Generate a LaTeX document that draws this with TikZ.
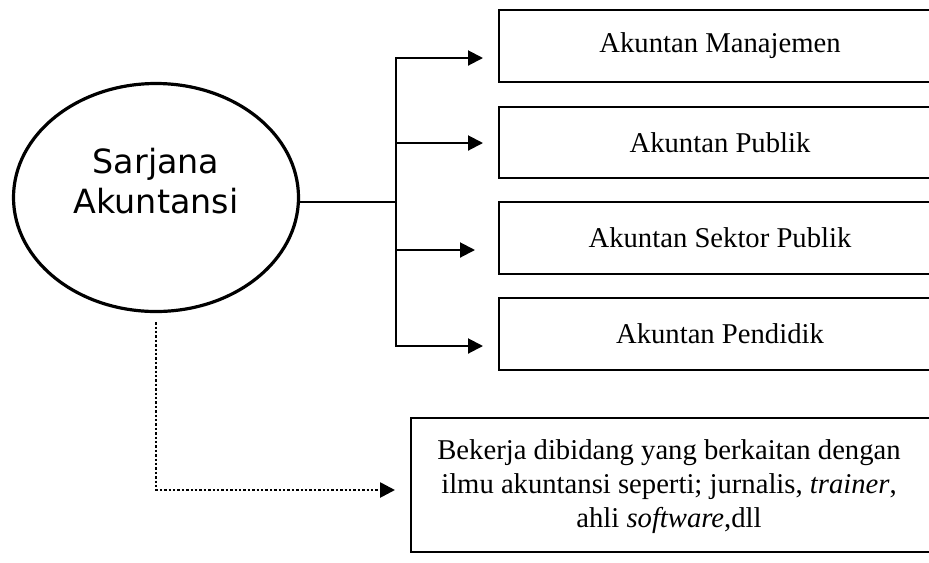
\documentclass[tikz,border=0pt]{standalone}
\usepackage{fontspec}
\setmainfont{Liberation Serif}
\newfontfamily\vsans{DejaVu Sans}
\usetikzlibrary{shapes.geometric,arrows.meta}
\tikzset{
  boxstyle/.style={rectangle, inner sep=0pt, align=center,
    font=\fontsize{21.5}{25.5}\selectfont},
  boxline/.style={line width=1.25pt},
  conn/.style={line width=1.5pt},
  arr/.style={line width=1.5pt, -{Triangle[length=11.25pt,width=11.25pt]}},
  dotline/.style={line width=2pt, dash pattern=on 1.8pt off 1.5pt,
    -{Triangle[length=11.25pt,width=11.25pt]}},
}
\begin{document}
\begin{tikzpicture}[x=0.75pt,y=-0.75pt]
\useasboundingbox (0,0) rectangle (929,562);
\fill[white] (0,0) rectangle (929,562);
\coordinate (edge) at (929.5,0);
% ellipse
\node[draw, ellipse, line width=2.4pt, minimum width=213.75pt, minimum height=171pt, inner sep=0pt] (ell) at (156,197.5) {};
\node[font=\vsans\fontsize{25}{30}\selectfont, align=center, anchor=base] (elltext) at (156,213) {Sarjana\\Akuntansi};
% boxes (cut off by the right edge of the picture)
\node[boxstyle, minimum width=331.5pt, minimum height=54pt] (b1) at (720,46) {Akuntan Manajemen};
\node[boxstyle, minimum width=331.5pt, minimum height=53.25pt] (b2) at (720,142.5) {Akuntan Publik};
\node[boxstyle, minimum width=331.5pt, minimum height=54pt] (b3) at (720,238) {Akuntan Sektor Publik};
\node[boxstyle, minimum width=331.5pt, minimum height=54pt] (b4) at (720,334) {Akuntan Pendidik};
\node[boxstyle, minimum width=389pt, minimum height=100.5pt] (b5) at (670.5,485) {};
\node[align=center, inner sep=0pt, font=\fontsize{21.5}{25.5}\selectfont] (b5text) at (669,487)
  {Bekerja dibidang yang berkaitan dengan\\ilmu akuntansi seperti; jurnalis, \textit{trainer},\\ahli \textit{software},dll};
\foreach \b in {b1,b2,b3,b4,b5}{
  \draw[boxline] (\b.north east -| edge) -- (\b.north west) -- (\b.south west) -- (\b.south east -| edge);
}
% trunk
\coordinate (j) at (396,202);
\coordinate (t1) at (396,58);
\coordinate (t2) at (396,143);
\coordinate (t3) at (396,250);
\coordinate (t4) at (396,346);
\coordinate (a1) at (483,58);
\coordinate (a2) at (483,143);
\coordinate (a3) at (475,250);
\coordinate (a4) at (483,346);
\draw[conn] (ell.east |- j) -- (j);
\draw[conn, line cap=rect] (t1) -- (t4);
\draw[arr] (t1) -- (a1);
\draw[arr] (t2) -- (a2);
\draw[arr] (t3) -- (a3);
\draw[arr] (t4) -- (a4);
% dotted connector
\coordinate (dend) at (395,490);
\draw[dotline, shorten <=6.75pt] (ell.south) |- (dend);
\end{tikzpicture}
\end{document}
